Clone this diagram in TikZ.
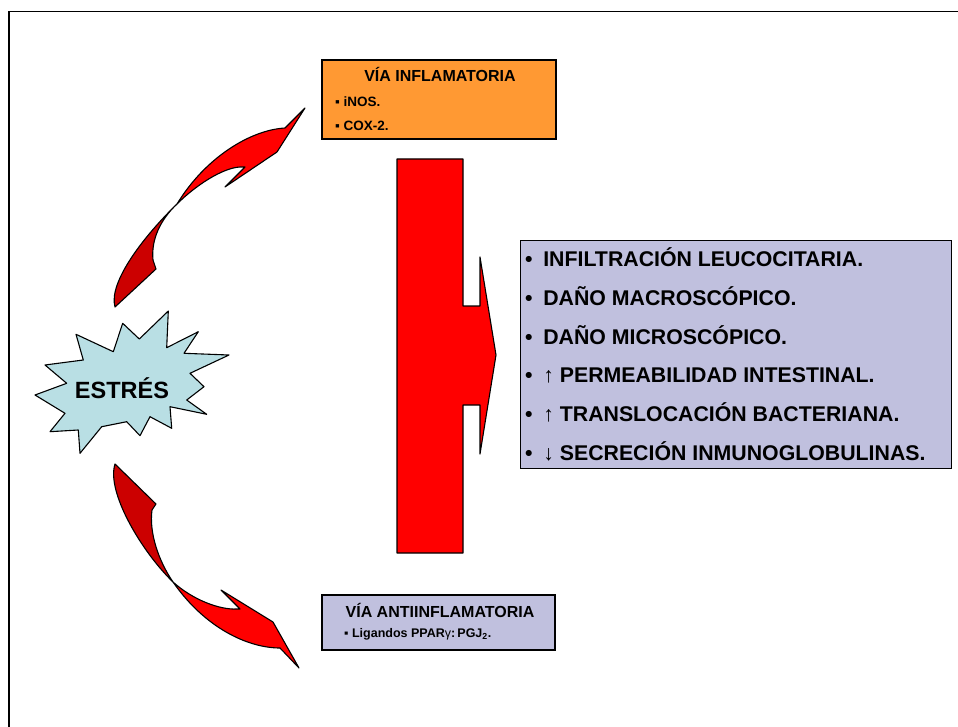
\documentclass[tikz,border=0pt]{standalone}
\usepackage{fontspec}
\setmainfont{Liberation Sans}
\begin{document}
\begin{tikzpicture}[x=1pt,y=1pt,yscale=-1,xscale=1,
  rib/.style={draw=black, line width=1.1, line join=round},
  boxtxt/.style={anchor=base west, inner sep=0pt, font=\bfseries\fontsize{13.5}{16}\selectfont},
  boxttl/.style={anchor=base, inner sep=0pt, font=\bfseries\fontsize{16}{19}\selectfont},
  efecto/.style={anchor=base west, inner sep=0pt, font=\bfseries\fontsize{21.3}{25}\selectfont}]
\useasboundingbox (0,0) rectangle (958,727);

%Frame
\draw[line width=1.8] (9,727) -- (9,11.5) -- (958,11.5);

%Shape: Rectangle (via inflamatoria)
\draw[fill={rgb,255:red,255;green,153;blue,51}, line width=1.1] (322,60) rectangle (556,139);
%Shape: Rectangle (via antiinflamatoria)
\draw[fill={rgb,255:red,192;green,192;blue,222}, line width=1.1] (322,595) rectangle (555,650);
%Shape: Rectangle (efectos)
\draw[fill={rgb,255:red,192;green,192;blue,222}, line width=0.9] (520,240) rectangle (951,468);

%Shape: Block arrow
\draw[rib, fill={rgb,255:red,255;green,0;blue,0}] (397,159) -- (463,159) -- (463,306) -- (480,306) -- (480,257) -- (496,355) -- (480,454) -- (480,405) -- (463,405) -- (463,553) -- (397,553) -- cycle;

%Shape: Curved arrow up (tail)
\draw[rib, fill={rgb,255:red,204;green,0;blue,0}] (177,204) .. controls (145,235) and (108,282) .. (115,307) -- (156,269) -- (153,260) .. controls (151,240) and (160,220) .. (177,204) -- cycle;
%Shape: Curved arrow up (head)
\draw[rib, fill={rgb,255:red,255;green,0;blue,0}] (177,204) .. controls (195,186) and (222,168) .. (240,167) -- (245,167) -- (225,187) -- (277,152) -- (305,108) -- (285,128) .. controls (250,130) and (205,158) .. (177,204) -- cycle;

%Shape: Curved arrow down (tail)
\draw[rib, fill={rgb,255:red,204;green,0;blue,0}] (173,582) .. controls (142,552) and (106,492) .. (115,464) -- (156,504) -- (152,510) .. controls (149,532) and (158,560) .. (173,582) -- cycle;
%Shape: Curved arrow down (head)
\draw[rib, fill={rgb,255:red,255;green,0;blue,0}] (173,582) .. controls (193,600) and (220,610) .. (237,609) -- (240,609) -- (221,590) -- (273,622) -- (299,668) -- (280,648) .. controls (248,648) and (205,628) .. (173,582) -- cycle;

%Shape: Star
\draw[line width=1.1, line join=round, fill={rgb,255:red,185;green,223;blue,228}] (168.3,311) -- (166.7,347.7) -- (198.3,331.7) -- (184,353.3) -- (229,355) -- (190,373.3) -- (204,386.7) -- (186.7,400) -- (206.7,414.3) -- (170,406.7) -- (171.7,428.3) -- (150,416.7) -- (140,435.7) -- (126.7,421.7) -- (101.7,426.7) -- (80,453.3) -- (78.3,430) -- (50,431.7) -- (65,413.3) -- (35,395) -- (66.7,383.3) -- (45,365) -- (83.3,360) -- (76,334.3) -- (113.3,351.7) -- (122.7,323.3) -- (139.3,339) -- cycle;

% Text Node
\node[anchor=base, inner sep=0pt, font=\bfseries\fontsize{23.5}{28}\selectfont] (estres) at (122,398.4) {ESTRÉS};

% Text Node
\node[boxttl] (ttlinfl) at (440,81.7) {VÍA INFLAMATORIA};
\node[boxtxt] (inos) at (335,106.5) {▪ iNOS.};
\node[boxtxt] (cox) at (335,130.2) {▪ COX-2.};

% Text Node
\node[boxttl] (ttlanti) at (440,617.7) {VÍA ANTIINFLAMATORIA};
\node[boxtxt, font=\bfseries\fontsize{12.5}{15}\selectfont] (ppar) at (344,637.7) {▪ Ligandos PPAR{\mdseries γ}:\,PGJ\textsubscript{2}.};

% Text Node
\node[efecto] (ef1) at (525,266.7) {•\hspace{0.5em}INFILTRACIÓN LEUCOCITARIA.};
\node[efecto] (ef2) at (525,305.4) {•\hspace{0.5em}DAÑO MACROSCÓPICO.};
\node[efecto] (ef3) at (525,344.1) {•\hspace{0.5em}DAÑO MICROSCÓPICO.};
\node[efecto] (ef4) at (525,382.8) {•\hspace{0.5em}↑ PERMEABILIDAD INTESTINAL.};
\node[efecto] (ef5) at (525,421.5) {•\hspace{0.5em}↑ TRANSLOCACIÓN BACTERIANA.};
\node[efecto] (ef6) at (525,460.2) {•\hspace{0.5em}↓ SECRECIÓN INMUNOGLOBULINAS.};
\end{tikzpicture}
\end{document}
